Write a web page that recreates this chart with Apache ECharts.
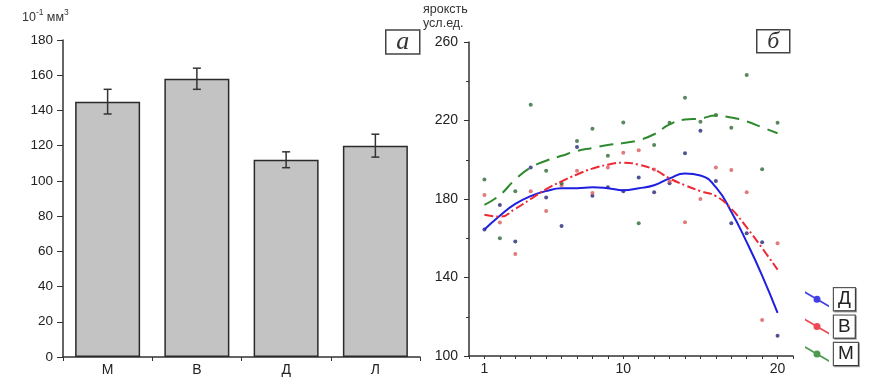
<!DOCTYPE html>
<html><head><meta charset="utf-8">
<script src="https://cdn.jsdelivr.net/npm/echarts/dist/echarts.min.js"></script>
<style>html,body{margin:0;padding:0;background:#fff}#c{width:872px;height:387px}</style>
</head><body><div id="c"></div>
<script>
// Panel a
const categories = ['М', 'В', 'Д', 'Л'];
const meanValues = [145, 158, 112, 120];
const errorValues = [7, 6, 4.5, 6.5];
const yTicksA = [0, 20, 40, 60, 80, 100, 120, 140, 160, 180];

// Panel б
const days = [1, 2, 3, 4, 5, 6, 7, 8, 9, 10, 11, 12, 13, 14, 15, 16, 17, 18, 19, 20];
const xLabelsB = [1, 10, 20];
const yLabelsB = [100, 140, 180, 220, 260];
const seriesNames = ['Д', 'В', 'М'];
const dotsD = [164.5, 177, 158.3, 196, 180.8, 166.2, 206.5, 181.7, 186, 184, 190.9, 183.4, 188, 203.3, 214.8, 189.2, 167.6, 162.5, 157.9, 110.3];
const dotsV = [182, 168, 152, 184, 173.9, 187, 194.4, 183, 196, 203.6, 204.8, 195, 189, 168.1, 180, 196, 194.8, 183.4, 118.3, 157.4];
const dotsM = [190, 160, 184, 228, 194.4, 188, 209.5, 215.8, 202, 219, 167.6, 207.5, 218.9, 231.6, 219.4, 222.8, 216.3, 243.2, 195.1, 218.9];
const trendD = [164.5, 171.5, 177.5, 181.5, 184, 185.5, 185.5, 186, 185.5, 184.5, 185.5, 187, 190.5, 193, 192, 186, 173.5, 158, 141, 122];
const trendV = [172, 171, 175, 180, 185, 189, 192.5, 195.5, 197.5, 198.5, 197.5, 195, 190.5, 187, 184, 181.5, 175, 165.5, 155, 144];
const trendM = [177, 182, 190, 196, 199.5, 202, 204.5, 206, 207.5, 208.5, 210, 213, 218, 220.5, 221, 222.5, 221.5, 219.5, 216.5, 213.5];

const lineColors = ['#1f1fe0', '#ec2a36', '#2f8a2f'];
const dotColors = ['#26267a', '#d85a5a', '#2e6a34'];
const pair = (arr) => days.map((d, i) => [d, arr[i]]);

const chart = echarts.init(document.getElementById('c'), null, {renderer: 'canvas'});
const axisCol = '#333';
const font = 'Liberation Sans, Arial, sans-serif';
const iconPath = 'path://M0,0 L24,14 L24,16 L0,2 Z M8.5,8 A3.5,3.5 0 1,1 15.5,8 A3.5,3.5 0 1,1 8.5,8 Z';

const option = {
  animation: false,
  backgroundColor: '#fff',
  textStyle: {fontFamily: font},
  grid: [
    {left: 63, top: 40, width: 357, height: 317},
    {left: 469, top: 42, width: 324, height: 314}
  ],
  xAxis: [
    {
      gridIndex: 0, type: 'category', data: categories,
      axisLine: {lineStyle: {color: axisCol, width: 1.5}},
      axisTick: {show: true, length: 4, lineStyle: {color: axisCol}},
      axisLabel: {color: '#222', fontSize: 14, margin: 6, fontFamily: font}
    },
    {
      gridIndex: 1, type: 'value', min: 0, max: 21, interval: 1,
      splitLine: {show: false},
      axisLine: {lineStyle: {color: axisCol, width: 1.5}},
      axisTick: {length: 3, lineStyle: {color: axisCol}},
      axisLabel: {color: '#222', fontSize: 14, margin: 6, fontFamily: font,
        formatter: v => xLabelsB.includes(v) ? String(v) : ''}
    }
  ],
  yAxis: [
    {
      gridIndex: 0, type: 'value', min: yTicksA[0], max: yTicksA[yTicksA.length - 1], interval: 20,
      splitLine: {show: false},
      axisLine: {show: true, lineStyle: {color: axisCol, width: 1.5}},
      axisTick: {show: true, length: 6, lineStyle: {color: axisCol}},
      axisLabel: {color: '#222', fontSize: 13.5, margin: 10, fontFamily: font}
    },
    {
      gridIndex: 1, type: 'value', min: yLabelsB[0], max: yLabelsB[yLabelsB.length - 1], interval: 40,
      splitLine: {show: false},
      axisLine: {show: true, lineStyle: {color: axisCol, width: 1.5}},
      axisTick: {show: true, length: 5, lineStyle: {color: axisCol}},
      minorTick: {show: true, splitNumber: 2, length: 3, lineStyle: {color: axisCol}},
      axisLabel: {color: '#222', fontSize: 14, margin: 11, fontFamily: font}
    }
  ],
  legend: {
    orient: 'vertical', left: 800, top: 282, itemWidth: 24, itemHeight: 16, itemGap: 3,
    selectedMode: false,
    data: seriesNames.map((n, i) => ({name: n, icon: iconPath,
      itemStyle: {color: lineColors[i], borderWidth: 0, opacity: 0.85}})),
    textStyle: {fontSize: 19, color: '#222', fontFamily: font, borderColor: '#555', borderWidth: 1.2,
      padding: [2, 4, 1, 4], backgroundColor: '#fff', shadowColor: 'rgba(0,0,0,0.35)', shadowOffsetX: 1, shadowOffsetY: 1, shadowBlur: 0}
  },
  graphic: [
    {type: 'text', left: 22, top: 8, style: {
      text: '{n|10}{s|-1} {n|мм}{s|3}',
      rich: {n: {fontSize: 12.5, fill: '#333', fontFamily: font, verticalAlign: 'bottom'},
             s: {fontSize: 8.5, fill: '#333', fontFamily: font, verticalAlign: 'top', padding: [0, 0, 7, 0]}}
    }},
    {type: 'text', left: 423, top: 3, style: {
      text: 'яроксть\nусл.ед.', fontSize: 12.5, lineHeight: 14, fill: '#333', fontFamily: font, align: 'center'
    }},
    {type: 'group', left: 385, top: 29, children: [
      {type: 'rect', shape: {x: 0, y: 0, width: 34, height: 24}, style: {fill: '#fff', stroke: '#444', lineWidth: 1.5}},
      {type: 'text', style: {x: 17, y: 12, text: 'a', font: 'italic 26px "Liberation Serif", serif', fill: '#333', align: 'center', verticalAlign: 'middle'}}
    ]},
    {type: 'group', left: 756, top: 29, children: [
      {type: 'rect', shape: {x: 0, y: 0, width: 33, height: 23}, style: {fill: '#fff', stroke: '#444', lineWidth: 1.5}},
      {type: 'text', style: {x: 16.5, y: 11.5, text: 'б', font: 'italic 24px "Liberation Serif", serif', fill: '#333', align: 'center', verticalAlign: 'middle'}}
    ]}
  ],
  series: [
    {
      type: 'bar', xAxisIndex: 0, yAxisIndex: 0, data: meanValues, barWidth: 65,
      itemStyle: {color: '#c3c3c3', borderColor: '#2a2a2a', borderWidth: 1.5}
    },
    {
      type: 'custom', xAxisIndex: 0, yAxisIndex: 0,
      data: meanValues.map((m, i) => [i, m - errorValues[i], m + errorValues[i]]),
      renderItem: (params, api) => {
        const lo = api.coord([api.value(0), api.value(1)]);
        const hi = api.coord([api.value(0), api.value(2)]);
        const w = 4;
        const st = {stroke: '#333', lineWidth: 1.5};
        return {type: 'group', children: [
          {type: 'line', shape: {x1: hi[0], y1: hi[1], x2: lo[0], y2: lo[1]}, style: st},
          {type: 'line', shape: {x1: hi[0] - w, y1: hi[1], x2: hi[0] + w, y2: hi[1]}, style: st},
          {type: 'line', shape: {x1: lo[0] - w, y1: lo[1], x2: lo[0] + w, y2: lo[1]}, style: st}
        ]};
      },
      z: 5
    },
    {name: 'Д', type: 'scatter', xAxisIndex: 1, yAxisIndex: 1, data: pair(dotsD), symbol: 'circle', symbolSize: 4, itemStyle: {color: dotColors[0]}},
    {name: 'В', type: 'scatter', xAxisIndex: 1, yAxisIndex: 1, data: pair(dotsV), symbol: 'circle', symbolSize: 4, itemStyle: {color: dotColors[1]}},
    {name: 'М', type: 'scatter', xAxisIndex: 1, yAxisIndex: 1, data: pair(dotsM), symbol: 'circle', symbolSize: 4, itemStyle: {color: dotColors[2]}},
    {name: 'Д', type: 'line', xAxisIndex: 1, yAxisIndex: 1, data: pair(trendD), smooth: 0.5, symbol: 'circle', showSymbol: false,
      itemStyle: {color: lineColors[0]}, lineStyle: {color: lineColors[0], width: 2}},
    {name: 'В', type: 'line', xAxisIndex: 1, yAxisIndex: 1, data: pair(trendV), smooth: 0.5, symbol: 'circle', showSymbol: false,
      itemStyle: {color: lineColors[1]}, lineStyle: {color: lineColors[1], width: 2, type: [9, 3, 2, 3]}},
    {name: 'М', type: 'line', xAxisIndex: 1, yAxisIndex: 1, data: pair(trendM), smooth: 0.5, symbol: 'circle', showSymbol: false,
      itemStyle: {color: lineColors[2]}, lineStyle: {color: lineColors[2], width: 2, type: [14, 8]}}
  ]
};
chart.setOption(option);
</script>
</body></html>
